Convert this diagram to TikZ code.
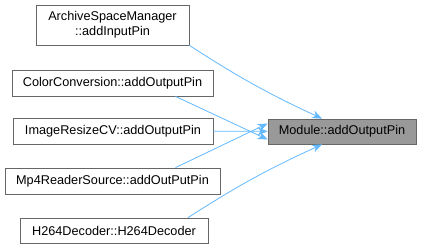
\documentclass[tikz,border=0pt]{standalone}
\usepackage{fontspec}
\setmainfont{Liberation Sans}
\usetikzlibrary{arrows.meta}
\definecolor{edgeblue}{HTML}{63B8FF}
\definecolor{boxgray}{HTML}{666666}
\definecolor{selgray}{HTML}{999999}
\tikzstyle{caller} = [rectangle, minimum height=26pt, inner sep=0pt, align=center, draw=boxgray, fill=white, line width=0.8pt]
\tikzstyle{callee} = [rectangle, minimum width=148pt, minimum height=25pt, inner sep=0pt, draw=boxgray, fill=selgray, line width=0.8pt]
\tikzstyle{arrow} = [draw=edgeblue, line width=0.8pt, -{Stealth[length=10pt,width=8pt]}]

\begin{document}
\begin{tikzpicture}[x=1pt, y=-1pt, font=\fontsize{12.7}{15}\selectfont]
		\useasboundingbox (0,0) rectangle (422,249);
		%\node (title) {Callers};
		\node (m) [callee] at (342,131.5) {Module::addOutputPin};
		\node (c1) [caller, minimum width=153pt, minimum height=40pt] at (112.5,25) {ArchiveSpaceManager\\::addInputPin};
		\node (c2) [caller, minimum width=201pt] at (112.5,83) {ColorConversion::addOutputPin};
		\node (c3) [caller, minimum width=200pt] at (113,131) {ImageResizeCV::addOutputPin};
		\node (c4) [caller, minimum width=215pt] at (112.5,181) {Mp4ReaderSource::addOutPutPin};
		\node (c5) [caller, minimum width=188pt, minimum height=25pt] at (114,230.5) {H264Decoder::H264Decoder};

		\draw [arrow] (c1.south east) to[bend right=4] ([xshift=-20pt]m.north);
		\draw [arrow] ([xshift=63pt]c2.south) -- ([yshift=-8pt]m.west);
		\draw [arrow] (c3) -- (m);
		\draw [arrow] ([xshift=63pt]c4.north) -- ([yshift=8pt]m.west);
		\draw [arrow] ([xshift=74pt]c5.north) to[bend left=4] ([xshift=-20pt]m.south);
\end{tikzpicture}
\end{document}
